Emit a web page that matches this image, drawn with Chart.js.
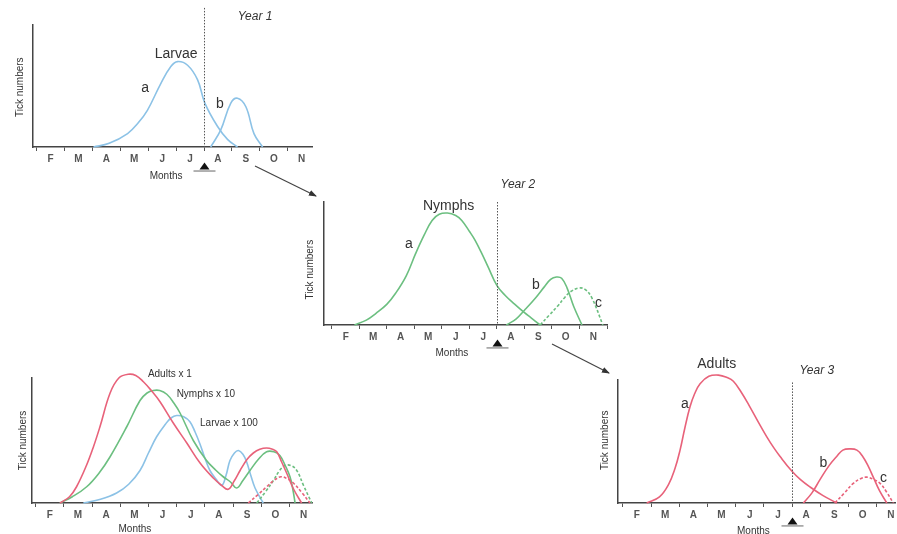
<!DOCTYPE html>
<html>
<head>
<meta charset="utf-8">
<script src="https://cdn.jsdelivr.net/npm/chart.js@4"></script>
<style>
  body { margin: 0; background: #fff; }
  #wrap { position: relative; width: 897px; height: 534px; overflow: hidden; }
  canvas, svg { position: absolute; }
</style>
</head>
<body>
<div id="wrap">
  <canvas id="year1" width="320" height="190" style="left:0;top:0"></canvas>
  <canvas id="year2" width="320" height="190" style="left:295px;top:175px"></canvas>
  <canvas id="combined" width="330" height="174" style="left:0;top:360px"></canvas>
  <canvas id="year3" width="302" height="189" style="left:595px;top:345px"></canvas>
  <svg width="897" height="534" style="left:0;top:0">
    <defs>
      <marker id="head" markerWidth="8" markerHeight="6" refX="7" refY="3" orient="auto" markerUnits="userSpaceOnUse">
        <path d="M0,0 L8,3 L0,6 z" fill="#333"/>
      </marker>
    </defs>
    <line x1="255" y1="166" x2="316" y2="196" stroke="#444" stroke-width="1.2" marker-end="url(#head)"/>
    <line x1="552" y1="344" x2="609" y2="373" stroke="#444" stroke-width="1.2" marker-end="url(#head)"/>
  </svg>
</div>
<script>
// month labels, placed between the month boundary ticks (x = 1 is 1 Feb, 11 is 1 Dec)
const months = ['F', 'M', 'A', 'M', 'J', 'J', 'A', 'S', 'O', 'N'];

// [month, tick numbers]
// Year 1 - larvae
const larvaeA = [[3.04,0],[3.6,3],[4.26,11],[4.65,20],[4.97,30],[5.45,52],[5.81,66],[6.05,70],[6.41,67],[6.77,55],[7.03,36],[7.48,17],[7.85,6],[8.2,0]];
const larvaeB = [[7.24,0],[7.6,14],[7.96,36],[8.2,40],[8.5,33],[8.79,11],[9.1,0]];
// Year 2 - nymphs
const nymphsA = [[1.82,0],[2.25,4],[2.6,9.5],[3.0,17],[3.32,26],[3.7,40],[4.04,58],[4.35,73],[4.64,85],[4.9,90],[5.2,91],[5.5,89],[5.72,85],[6.0,76],[6.2,69],[6.45,58],[6.68,47],[7,32],[7.3,24],[7.64,17],[8.0,10],[8.23,6],[8.57,0]];
const nymphsB = [[7.34,0],[7.7,5],[8.0,12],[8.4,22],[8.72,31],[8.95,37],[9.16,39],[9.35,38],[9.55,30],[9.79,15],[10.09,0]];
const nymphsC = [[8.57,0],[8.9,8],[9.19,15],[9.45,22],[9.67,27],[9.97,30],[10.2,29],[10.45,22],[10.85,0]];
// Year 3 - adults
const adultsA = [[1.85,0],[2.3,5],[2.62,15],[2.85,28],[3.03,43],[3.2,61],[3.38,78],[3.55,89],[3.74,97],[4.05,103],[4.39,104],[4.7,102],[4.92,99],[5.2,90],[5.51,78],[5.8,66],[6.1,54],[6.35,45],[6.57,38],[6.99,26],[7.3,19],[7.64,13],[8.1,6],[8.59,0]];
const adultsB = [[7.4,0],[7.7,8],[7.99,19],[8.3,30],[8.59,38],[8.8,43],[9.06,44],[9.3,43],[9.5,38],[9.7,30],[9.88,21],[10.1,10],[10.36,0]];
const adultsC = [[8.52,0],[8.85,8],[9.17,16],[9.45,20],[9.65,21],[9.9,19],[10.12,16],[10.35,9],[10.59,0]];
// combined panel (adults x 1, nymphs x 10, larvae x 100)
const sumAdults = [[1.86,0],[2.2,5],[2.45,13],[2.8,30],[3.05,45],[3.28,61],[3.64,88],[3.95,100],[4.28,103],[4.55,102],[4.82,97],[5.1,90],[5.41,81],[5.88,64],[6.36,48],[6.83,32],[7.3,20],[7.6,14],[7.83,11],[8.05,18],[8.25,26],[8.5,35],[8.72,40],[8.95,43],[9.19,44],[9.4,43],[9.55,41],[9.72,33],[9.9,24],[10.15,11],[10.43,0]];
const sumAdultsC = [[8.54,0],[8.9,7],[9.19,13],[9.45,18],[9.7,21],[9.95,19],[10.14,16],[10.45,8],[10.73,0]];
const sumNymphs = [[1.86,0],[2.3,5],[2.81,13],[3.25,24],[3.64,37],[4.23,61],[4.7,82],[4.95,88],[5.17,90],[5.4,90],[5.65,87],[5.9,80],[6.12,72],[6.59,50],[7.06,34],[7.4,26],[7.65,21],[7.9,17],[8.13,12],[8.35,18],[8.6,26],[8.9,35],[9.19,41],[9.45,41],[9.66,38],[9.85,30],[10.02,21],[10.12,11],[10.2,0]];
const sumNymphsC = [[8.84,0],[9.15,9],[9.43,18],[9.65,26],[9.84,30],[10.05,30],[10.26,26],[10.5,14],[10.79,0]];
const sumLarvae = [[2.69,0],[3.3,3],[3.87,8],[4.3,15],[4.7,26],[5.0,40],[5.29,53],[5.6,63],[5.8,68],[6.0,70],[6.25,69],[6.47,65],[6.65,57],[6.83,47],[7.0,36],[7.18,26],[7.4,19],[7.6,14],[7.75,22],[7.89,34],[8.05,40],[8.19,42],[8.35,39],[8.48,33],[8.63,22],[8.78,12],[9.07,0]];

const BLUE = '#8cc2e6', GREEN = '#6cbf80', RED = '#e8627a', INK = '#333';
const tickSteps = [];
for (let v = 1; v <= 11; v += 0.5) tickSteps.push(v);

function curve(points, color, dashed) {
  return {
    data: points.map(p => ({ x: p[0], y: p[1] })),
    borderColor: color,
    borderWidth: 1.6,
    borderDash: dashed ? [3, 2] : [],
    pointRadius: 0,
    tension: 0.4,
    fill: false,
    clip: false
  };
}

// draws the dotted season line, the little triangle and the free texts
const extras = {
  id: 'extras',
  afterDatasetsDraw(chart, args, opts) {
    const { ctx, chartArea } = chart;
    const x = chart.scales.x, y = chart.scales.y;
    ctx.save();
    if (opts.vline != null) {
      const px = Math.round(x.getPixelForValue(opts.vline)) + 0.5;
      ctx.strokeStyle = '#555';
      ctx.lineWidth = 1;
      ctx.setLineDash([1.5, 1.5]);
      ctx.beginPath();
      ctx.moveTo(px, y.getPixelForValue(opts.vtop));
      ctx.lineTo(px, chartArea.bottom);
      ctx.stroke();
      ctx.setLineDash([]);
      const my = y.getPixelForValue(opts.markerY);
      ctx.fillStyle = '#111';
      ctx.beginPath();
      ctx.moveTo(px - 5, my + 3);
      ctx.lineTo(px + 5, my + 3);
      ctx.lineTo(px, my - 4);
      ctx.closePath();
      ctx.fill();
      ctx.strokeStyle = '#666';
      ctx.beginPath();
      ctx.moveTo(px - 11, my + 4.5);
      ctx.lineTo(px + 11, my + 4.5);
      ctx.stroke();
    }
    (opts.notes || []).forEach(n => {
      ctx.save();
      ctx.font = n.font || '14px "Liberation Sans"';
      ctx.fillStyle = n.color || INK;
      ctx.textAlign = n.align || 'center';
      ctx.textBaseline = 'middle';
      ctx.translate(x.getPixelForValue(n.x), y.getPixelForValue(n.y));
      if (n.rot) ctx.rotate(-Math.PI / 2);
      ctx.fillText(n.t, 0, 0);
      ctx.restore();
    });
    ctx.restore();
  }
};

function panel(id, datasets, xMin, xMax, pad, extraOpts) {
  new Chart(document.getElementById(id), {
    type: 'line',
    data: { datasets },
    options: {
      responsive: false,
      animation: false,
      events: [],
      layout: { padding: pad },
      plugins: { legend: { display: false }, tooltip: { enabled: false }, extras: extraOpts },
      scales: {
        x: {
          type: 'linear',
          min: xMin,
          max: xMax,
          afterBuildTicks: s => { s.ticks = tickSteps.filter(v => v >= xMin && v <= xMax).map(v => ({ value: v })); },
          afterFit: s => { s.height = 20; },
          ticks: {
            autoSkip: false,
            maxRotation: 0,
            padding: 2,
            color: '#555',
            font: { family: 'Liberation Sans', size: 10, weight: 'bold' },
            callback: v => (v % 1 === 0.5 ? months[Math.floor(v) - 1] : '')
          },
          grid: {
            drawOnChartArea: false,
            tickLength: 4,
            lineWidth: 1,
            color: c => (c.tick && Number.isInteger(c.tick.value) ? '#555' : 'rgba(0,0,0,0)')
          },
          border: { color: '#444', width: 1.5 }
        },
        y: {
          min: 0,
          max: 100,
          afterFit: s => { s.width = 0; },
          ticks: { display: false },
          grid: { drawOnChartArea: false, drawTicks: false },
          border: { color: '#444', width: 1.5 }
        }
      }
    },
    plugins: [extras]
  });
}

const small = '10px "Liberation Sans"';
const label = '14px "Liberation Sans"';
const year = 'italic 12px "Liberation Sans"';

panel('year1', [curve(larvaeA, BLUE), curve(larvaeB, BLUE)], 0.87, 10.87,
  { left: 33, top: 25, right: 8, bottom: 23 },
  { vline: 7, vtop: 114, markerY: -16, notes: [
    { t: 'Year 1', x: 8.83, y: 107, font: year },
    { t: 'Larvae', x: 6.0, y: 76, font: label },
    { t: 'a', x: 4.89, y: 48, font: label },
    { t: 'b', x: 7.57, y: 35, font: label },
    { t: 'Months', x: 5.64, y: -24, font: small },
    { t: 'Tick numbers', x: 0.4, y: 49, font: small, rot: true }
  ] });

panel('year2', [curve(nymphsA, GREEN), curve(nymphsB, GREEN), curve(nymphsC, GREEN, true)], 0.71, 11,
  { left: 29, top: 27, right: 8, bottom: 20 },
  { vline: 7, vtop: 100, markerY: -15, notes: [
    { t: 'Year 2', x: 7.76, y: 114, font: year },
    { t: 'Nymphs', x: 5.24, y: 97, font: label },
    { t: 'a', x: 3.8, y: 66, font: label },
    { t: 'b', x: 8.41, y: 32, font: label },
    { t: 'c', x: 10.69, y: 18, font: label },
    { t: 'Months', x: 5.36, y: -23, font: small },
    { t: 'Tick numbers', x: 0.2, y: 45, font: small, rot: true }
  ] });

panel('combined', [
    curve(sumAdults, RED), curve(sumAdultsC, RED, true),
    curve(sumNymphs, GREEN), curve(sumNymphsC, GREEN, true),
    curve(sumLarvae, BLUE)
  ], 0.87, 10.8,
  { left: 32, top: 18, right: 18, bottom: 11 },
  { notes: [
    { t: 'Adults x 1', x: 4.98, y: 103, font: small, align: 'left' },
    { t: 'Nymphs x 10', x: 6.0, y: 87, font: small, align: 'left' },
    { t: 'Larvae x 100', x: 6.83, y: 64, font: small, align: 'left' },
    { t: 'Months', x: 4.52, y: -21, font: small },
    { t: 'Tick numbers', x: 0.55, y: 50, font: small, rot: true }
  ] });

panel('year3', [curve(adultsA, RED), curve(adultsB, RED), curve(adultsC, RED, true)], 0.83, 10.65,
  { left: 23, top: 35, right: 2, bottom: 11 },
  { vline: 7, vtop: 98, markerY: -15, notes: [
    { t: 'Adults', x: 4.33, y: 113, font: label },
    { t: 'Year 3', x: 7.88, y: 108, font: year },
    { t: 'a', x: 3.2, y: 80, font: label },
    { t: 'b', x: 8.11, y: 32, font: label },
    { t: 'c', x: 10.24, y: 20, font: label },
    { t: 'Months', x: 5.63, y: -23, font: small },
    { t: 'Tick numbers', x: 0.37, y: 51, font: small, rot: true }
  ] });
</script>
</body>
</html>
